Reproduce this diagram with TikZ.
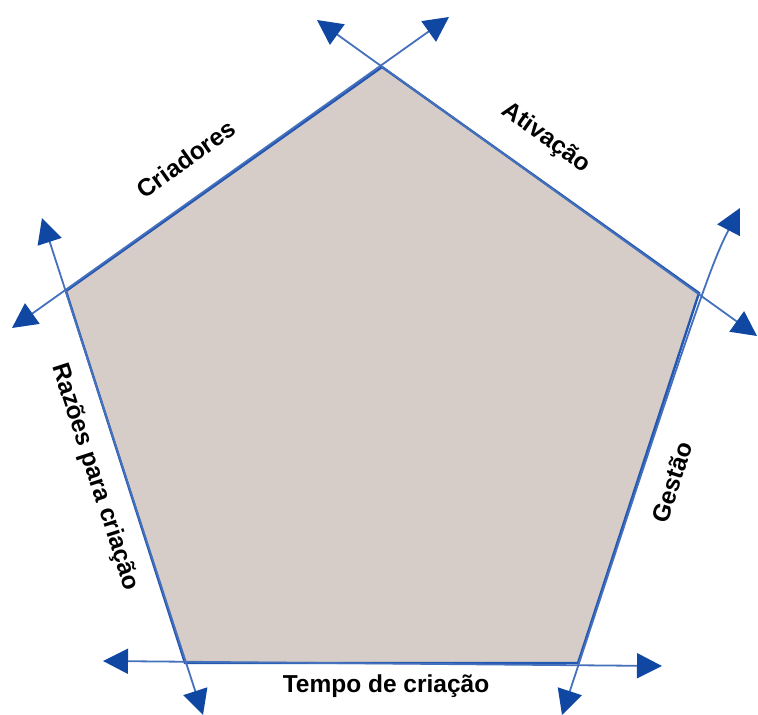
\documentclass[tikz,border=0pt]{standalone}
\usepackage{fontspec}
\setmainfont{Liberation Sans}
\usetikzlibrary{arrows.meta}
\definecolor{pentfill}{HTML}{D6CCC8}
\definecolor{edgeblue}{HTML}{2457B0}
\definecolor{arrowblue}{HTML}{0F47A3}
\tikzset{
  ext/.style={draw=edgeblue!85, line width=1.8pt, arrows={Triangle[length=25pt,width=25pt,fill=arrowblue,color=arrowblue]-Triangle[length=25pt,width=25pt,fill=arrowblue,color=arrowblue]}},
  pent/.style={fill=pentfill, draw=edgeblue, line width=2.4pt, line join=miter},
  lbl/.style={font=\bfseries\fontsize{24.5}{28}\selectfont, inner sep=0pt}
}
\begin{document}
\begin{tikzpicture}[x=1pt,y=-1pt]
\useasboundingbox (0,0) rectangle (758,715);
% vertices
\coordinate (A) at (382,67);
\coordinate (B) at (699,293);
\coordinate (C) at (578,663);
\coordinate (D) at (185,663);
\coordinate (E) at (66,291);
% arrow tips
\coordinate (t1a) at (12,328);
\coordinate (t1b) at (449,17);
\coordinate (t2a) at (317,20);
\coordinate (t2b) at (757,336);
\coordinate (t3a) at (740,208);
\coordinate (t3b) at (562,715);
\coordinate (t4a) at (103,661);
\coordinate (t4b) at (662,666);
\coordinate (t5a) at (42,218);
\coordinate (t5b) at (203,715);
% pentagon
\draw[pent] (A) -- (B) -- (C) -- (D) -- (E) -- cycle;
% extended lines
\draw[ext] (t1a) -- (t1b);
\draw[ext] (t2a) -- (t2b);
\draw[ext] (t3a) .. controls (712,262) and (700,295) .. (t3b);
\draw[ext] (t4a) -- (t4b);
\draw[ext] (t5a) -- (t5b);
% labels
\node[lbl, rotate=35.4] (l1) at (186,159) {Criadores};
\node[lbl, rotate=-35.5] (l2) at (546,138) {Ativação};
\node[lbl, rotate=-72] (l3) at (95,477) {Razões para criação};
\node[lbl, rotate=72] (l4) at (672,482) {Gestão};
\node[lbl] (l5) at (386,686) {Tempo de criação};
\end{tikzpicture}
\end{document}
